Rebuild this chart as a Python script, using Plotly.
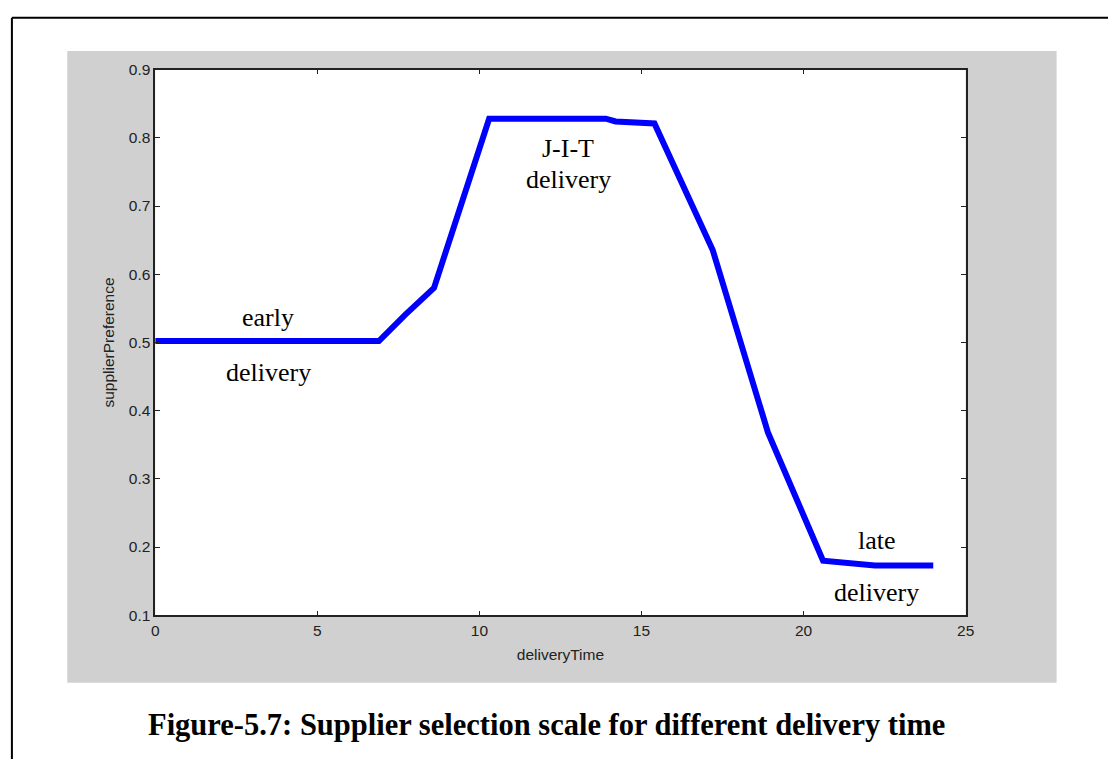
import plotly.graph_objects as go

# Data
delivery_time = [0, 6.9, 7.7, 8.6, 10.3, 13.9, 14.2, 15.4, 17.2, 18.9, 20.6, 21.5, 22.2, 24.0]
supplier_pref = [0.502, 0.502, 0.54, 0.58, 0.828, 0.828, 0.824, 0.821, 0.635, 0.368, 0.180, 0.177, 0.173, 0.173]

x_ticks = [0, 5, 10, 15, 20, 25]
y_ticks = [0.1, 0.2, 0.3, 0.4, 0.5, 0.6, 0.7, 0.8, 0.9]

labels = [
    ("early", 3.48, 0.536),
    ("delivery", 3.48, 0.456),
    ("J-I-T", 12.74, 0.784),
    ("delivery", 12.74, 0.739),
    ("late", 22.26, 0.210),
    ("delivery", 22.26, 0.134),
]

caption = "Figure-5.7: Supplier selection scale for different delivery time"

W, H = 1117, 767
px_l, px_r, px_t, px_b = 153, 973, 62, 620

fig = go.Figure()
fig.add_trace(go.Scatter(x=delivery_time, y=supplier_pref, mode="lines",
                         line=dict(color="#0000ff", width=6), showlegend=False,
                         hoverinfo="skip"))

tick_font = dict(family="Liberation Sans, Arial", size=15.5, color="#222")
axis_common = dict(showgrid=False, zeroline=False, showline=True, linecolor="#222",
                   linewidth=1.5, mirror="ticks", ticks="inside", ticklen=5,
                   tickcolor="#222", tickfont=tick_font)

fig.update_layout(
    width=W, height=H,
    margin=dict(l=0, r=0, t=0, b=0),
    paper_bgcolor="white", plot_bgcolor="white",
    xaxis=dict(domain=[px_l / W, px_r / W], range=[0, 25], tickvals=x_ticks,
               title=dict(text="deliveryTime", font=tick_font, standoff=12),
               **axis_common),
    yaxis=dict(domain=[1 - px_b / H, 1 - px_t / H], range=[0.1, 0.9], tickvals=y_ticks,
               tickformat=".1f",
               title=dict(text="supplierPreference", font=tick_font, standoff=10),
               **axis_common),
    shapes=[
        dict(type="rect", xref="paper", yref="paper", layer="below",
             x0=64 / W, x1=1065 / W, y0=1 - 689 / H, y1=1 - 43 / H,
             fillcolor="#d0d0d0", line=dict(width=0)),
        dict(type="rect", xref="x domain", yref="y domain", layer="below",
             x0=0, x1=1, y0=0, y1=1, fillcolor="white", line=dict(width=0)),
        dict(type="line", xref="paper", yref="paper",
             x0=8 / W, x1=1, y0=1 - 9 / H, y1=1 - 9 / H, line=dict(color="black", width=2)),
        dict(type="line", xref="paper", yref="paper",
             x0=8 / W, x1=8 / W, y0=0, y1=1 - 9 / H, line=dict(color="black", width=2)),
    ],
)

for text, x, y in labels:
    fig.add_annotation(x=x, y=y, xref="x", yref="y", text=text, showarrow=False,
                       xanchor="center", yanchor="middle",
                       font=dict(family="Liberation Serif, Times New Roman", size=26, color="black"))

fig.add_annotation(x=549 / W, y=1 - 732 / H, xref="paper", yref="paper", text="<b>" + caption + "</b>",
                   showarrow=False, xanchor="center", yanchor="middle",
                   font=dict(family="Liberation Serif, Times New Roman", size=30.5, color="black"))

post = ("document.documentElement.style.margin='0';document.documentElement.style.overflow='hidden';"
        "document.body.style.margin='0';document.body.style.padding='0';document.body.style.overflow='hidden';"
        "var d=document.getElementById('{plot_id}');d.style.position='fixed';d.style.left='0px';d.style.top='0px';")

fig.write_html("out.html", config={"displayModeBar": False}, post_script=post)
